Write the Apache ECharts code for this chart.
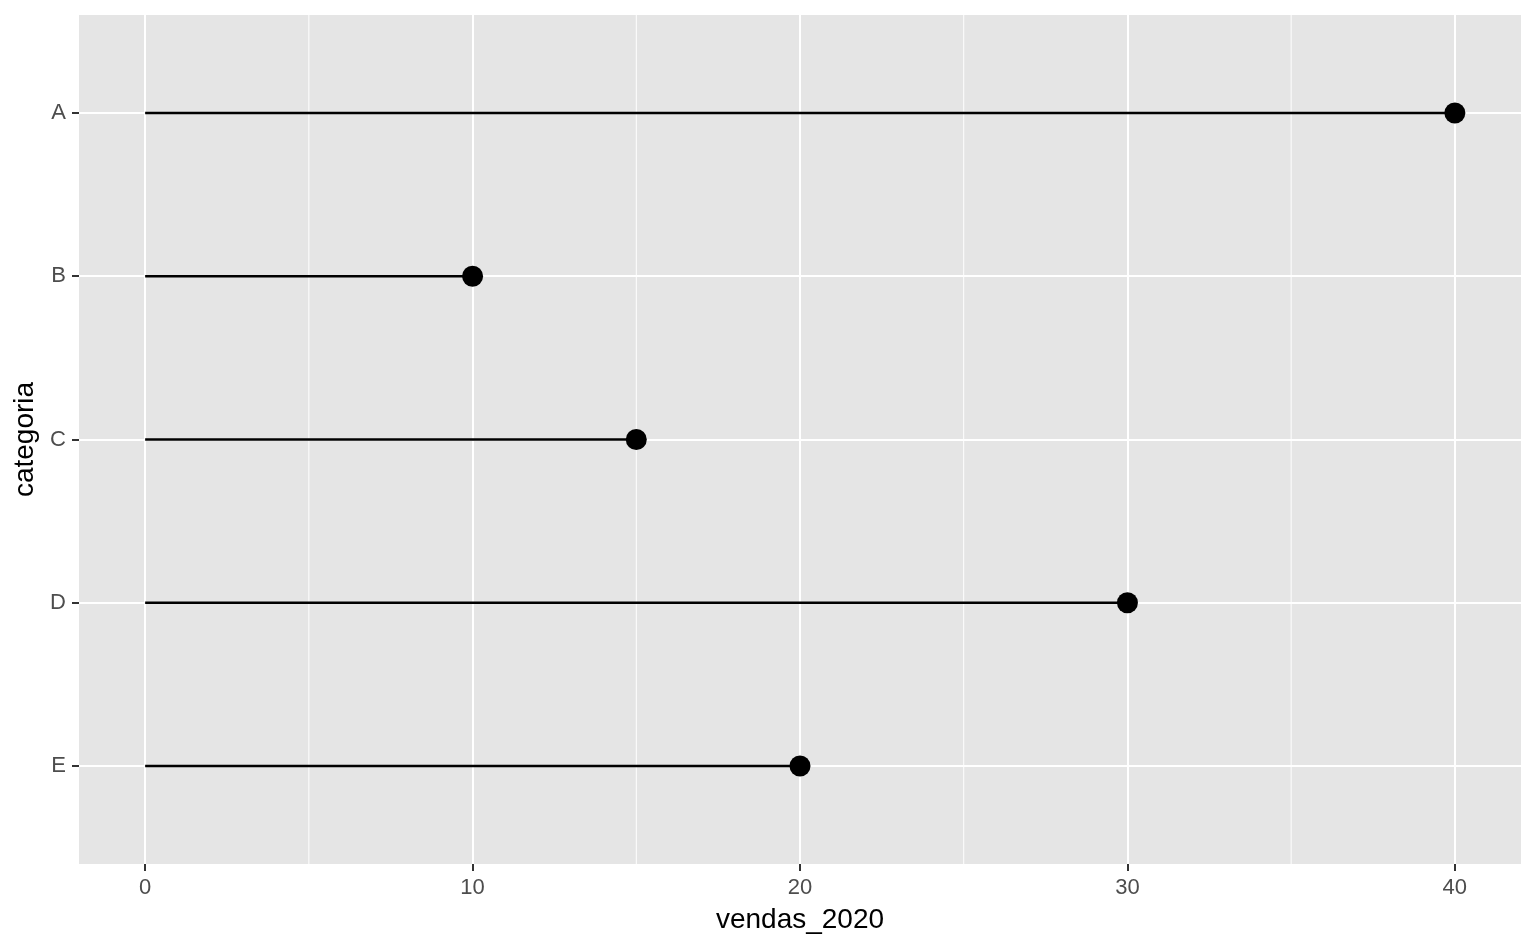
<!DOCTYPE html>
<html>
<head>
<meta charset="utf-8">
<script src="https://cdn.jsdelivr.net/npm/echarts@6/dist/echarts.min.js"></script>
<style>
  html, body { margin: 0; padding: 0; background: #fff; }
  #chart { width: 1536px; height: 949px; }
</style>
</head>
<body>
<div id="chart"></div>
<script>
// categorias e valores
const categorias = ["A", "B", "C", "D", "E"];
const vendas2020 = [40, 10, 15, 30, 20];
// marcas do eixo x
const xTicks = [0, 10, 20, 30, 40];
const xMinor = [5, 15, 25, 35];

const yPos = categorias.map((c, i) => i + 1);
const chart = echarts.init(document.getElementById("chart"));

const pontos = vendas2020.map((v, i) => [v, yPos[i]]);

const option = {
  animation: false,
  textStyle: { fontFamily: "Liberation Sans, Arial, sans-serif" },
  grid: {
    left: 79, right: 15, top: 15, bottom: 85,
    outerBoundsMode: "none",
    containLabel: false,
    show: true, backgroundColor: "#E5E5E5", borderWidth: 0
  },
  xAxis: {
    type: "value",
    position: "bottom",
    min: -2.02, max: 42.02,
    name: "vendas_2020",
    nameLocation: "middle",
    nameGap: 42,
    nameTextStyle: { color: "#000", fontSize: 28 },
    axisLine: { show: true, onZero: false, lineStyle: { color: "rgba(0,0,0,0)", width: 0 } },
    axisTick: { show: true, inside: false, length: 7, customValues: xTicks, lineStyle: { color: "#333", width: 2 } },
    axisLabel: { customValues: xTicks, color: "#4D4D4D", fontSize: 22, margin: 13 },
    splitLine: { show: true, lineStyle: { color: "#fff", width: 2 } }
  },
  yAxis: {
    type: "value",
    position: "left",
    inverse: true,
    min: 0.4, max: 5.6,
    name: "categoria",
    nameLocation: "middle",
    nameRotate: 90,
    nameGap: 36,
    nameTextStyle: { color: "#000", fontSize: 28 },
    axisLine: { show: true, onZero: false, lineStyle: { color: "rgba(0,0,0,0)", width: 0 } },
    axisTick: { show: true, inside: false, length: 7, customValues: yPos, lineStyle: { color: "#333", width: 2 } },
    axisLabel: {
      customValues: yPos, color: "#4D4D4D", fontSize: 22, margin: 13,
      formatter: (v) => categorias[Math.round(v) - 1] || ""
    },
    splitLine: { show: true, lineStyle: { color: "#fff", width: 2 } }
  },
  series: [
    {
      // linhas menores da grade
      type: "custom",
      z: 1,
      silent: true,
      data: xMinor,
      renderItem: (params, api) => {
        const v = api.value(0);
        const p1 = api.coord([v, 0.4]);
        const p2 = api.coord([v, 5.6]);
        return {
          type: "line",
          shape: { x1: p1[0], y1: p1[1], x2: p2[0], y2: p2[1] },
          style: { stroke: "#fff", lineWidth: 1 }
        };
      }
    },
    {
      // hastes
      type: "custom",
      z: 3,
      data: pontos,
      renderItem: (params, api) => {
        const p0 = api.coord([0, api.value(1)]);
        const p1 = api.coord([api.value(0), api.value(1)]);
        return {
          type: "line",
          shape: { x1: p0[0], y1: p0[1], x2: p1[0], y2: p1[1] },
          style: { stroke: "#000", lineWidth: 2.4 }
        };
      }
    },
    {
      type: "scatter",
      z: 4,
      symbol: "circle",
      symbolSize: 21,
      itemStyle: { color: "#000", opacity: 1 },
      data: pontos
    }
  ]
};

chart.setOption(option);
</script>
</body>
</html>
